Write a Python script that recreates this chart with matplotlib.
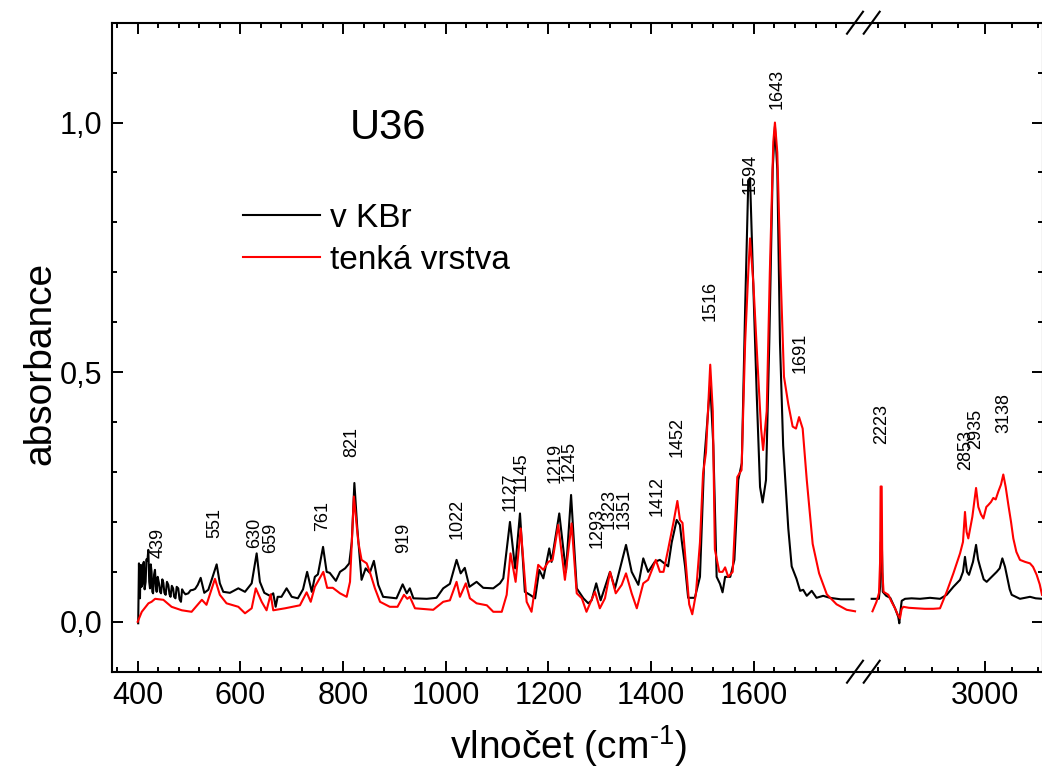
import matplotlib
matplotlib.use('Agg')
from matplotlib import pyplot as plt
from matplotlib.lines import Line2D
from matplotlib.ticker import FixedLocator, MultipleLocator, FuncFormatter

plt.rcParams['font.family'] = ['Liberation Sans', 'DejaVu Sans']
plt.rcParams['mathtext.fontset'] = 'custom'
plt.rcParams['mathtext.rm'] = 'Liberation Sans'
plt.rcParams['mathtext.it'] = 'Liberation Sans'
plt.rcParams['mathtext.default'] = 'regular'

# v KBr, 400-1800 cm-1
kbr_x = [401, 402.5, 403.5, 404.5, 405.5, 406.4, 407.5, 409, 410.5, 412, 413.5, 415.5, 417, 419, 420.7,
         422.5, 424, 425.5, 427, 428.5, 430, 432, 433.7, 435.5, 437, 439, 441.5, 443.5, 445.5, 448, 450,
         452, 454.5, 457, 459.6, 462, 464, 466.5, 469, 471, 473.6, 476, 479, 481.5, 484.3, 486.5, 489,
         493, 498.6, 503, 508, 512, 517,
         522.7, 529.7, 537.5, 545, 553.8, 560, 566.7, 579.7, 596, 609, 622, 631.7, 638, 646.6,
         657.6, 664, 668.7, 672.6, 680, 690, 700, 712, 722, 730, 739, 745, 751, 761, 768, 774,
         786, 794, 804, 812, 817, 822, 827.7, 836, 844, 852, 860, 868.5, 878, 904, 916, 924,
         930, 937, 963, 982, 995, 1008, 1021, 1029, 1037, 1046, 1060, 1073, 1092.5, 1105.5,
         1112, 1125, 1135, 1144.5, 1154, 1164, 1174, 1182, 1190, 1201.5, 1206, 1221, 1234,
         1244, 1255, 1268, 1277.5, 1284, 1293, 1301.6, 1319.8, 1329.5, 1342.6, 1351, 1362,
         1375, 1384.6, 1394, 1407, 1417, 1433, 1440, 1449.7, 1456, 1459.4, 1466, 1472, 1485,
         1495, 1503, 1515, 1521, 1527.5, 1534, 1539, 1544, 1554, 1562, 1569.6, 1576.5, 1583,
         1589, 1592.5, 1597.7, 1605.5, 1612, 1617, 1623.6, 1630, 1636.6, 1641, 1645.6, 1650.8,
         1657, 1667, 1673.6, 1683, 1690, 1696, 1703, 1712.6, 1722, 1735, 1748, 1769, 1794]
kbr_y = [-0.003, 0.117, 0.06, 0.047, 0.11, 0.114, 0.07, 0.074, 0.115, 0.12, 0.065, 0.08, 0.125, 0.122, 0.144,
         0.08, 0.067, 0.115, 0.10, 0.06, 0.057, 0.095, 0.104, 0.07, 0.06, 0.09, 0.077, 0.06, 0.057, 0.085, 0.078,
         0.058, 0.054, 0.08, 0.074, 0.055, 0.05, 0.072, 0.067, 0.05, 0.047, 0.07, 0.067, 0.045, 0.04, 0.065, 0.06,
         0.055, 0.057, 0.063, 0.064, 0.066, 0.074,
         0.088, 0.058, 0.064, 0.087, 0.115, 0.077, 0.06, 0.058, 0.067, 0.06, 0.077, 0.137, 0.08, 0.058,
         0.052, 0.057, 0.03, 0.05, 0.05, 0.067, 0.05, 0.047, 0.065, 0.10, 0.06, 0.09, 0.095, 0.15, 0.10, 0.098,
         0.082, 0.10, 0.107, 0.117, 0.16, 0.278, 0.187, 0.084, 0.107, 0.098, 0.122, 0.074, 0.05, 0.047, 0.075, 0.057,
         0.067, 0.047, 0.046, 0.048, 0.067, 0.076, 0.124, 0.097, 0.108, 0.07, 0.08, 0.068, 0.067, 0.077,
         0.087, 0.20, 0.107, 0.217, 0.06, 0.054, 0.047, 0.104, 0.087, 0.147, 0.12, 0.217, 0.10,
         0.254, 0.067, 0.047, 0.037, 0.043, 0.077, 0.043, 0.10, 0.067, 0.12, 0.154, 0.10,
         0.074, 0.127, 0.10, 0.12, 0.124, 0.111, 0.159, 0.204, 0.194, 0.163, 0.111, 0.048, 0.048,
         0.09, 0.318, 0.477, 0.353, 0.09, 0.076, 0.059, 0.09, 0.09, 0.124, 0.284, 0.318, 0.629,
         0.878, 0.889, 0.712, 0.456, 0.27, 0.239, 0.284, 0.56, 0.906, 0.992, 0.906, 0.56,
         0.353, 0.187, 0.111, 0.086, 0.062, 0.064, 0.052, 0.062, 0.048, 0.052, 0.048, 0.045, 0.045]

# tenka vrstva, 400-1800 cm-1
film_x = [400, 408, 421, 427, 434, 450, 466, 486, 505, 525, 534, 550.5, 560, 573, 596, 609, 622, 630,
          641.5, 651, 659, 664, 687, 716, 729, 737, 745, 761.5, 769, 780, 794, 807, 813.5, 821,
          829.6, 836, 846, 852, 862, 872, 891, 906, 918.6, 925, 930, 940, 975.6, 995, 1008, 1021,
          1027.6, 1039, 1047, 1060, 1080, 1092.5, 1109, 1118.6, 1126, 1136, 1146, 1157.5, 1167,
          1180, 1190, 1199.6, 1208, 1219, 1232, 1245, 1255, 1265, 1274, 1290.5, 1300, 1310, 1320,
          1331, 1342.6, 1351, 1362, 1372, 1384.6, 1394, 1409, 1417, 1424, 1433, 1443.6, 1451, 1456,
          1461, 1468, 1474, 1480, 1487, 1495, 1501, 1506.7, 1515, 1520, 1524, 1532.6, 1539, 1544,
          1550, 1558.7, 1567.7, 1576, 1583, 1589, 1592.5, 1599, 1606.7, 1614, 1618, 1625, 1631,
          1637.8, 1641, 1645.6, 1652, 1658.6, 1667, 1675.5, 1682, 1688, 1695, 1703, 1714.5, 1727,
          1742, 1761, 1780.7, 1797]
film_y = [0.0, 0.02, 0.037, 0.04, 0.046, 0.044, 0.03, 0.023, 0.02, 0.044, 0.034, 0.086, 0.054, 0.037, 0.03, 0.017, 0.027, 0.067,
          0.04, 0.023, 0.055, 0.023, 0.027, 0.033, 0.059, 0.04, 0.07, 0.10, 0.068, 0.068, 0.057, 0.05, 0.08, 0.251,
          0.16, 0.124, 0.117, 0.10, 0.067, 0.04, 0.03, 0.03, 0.054, 0.046, 0.05, 0.027, 0.024, 0.04, 0.043, 0.08,
          0.05, 0.077, 0.047, 0.037, 0.033, 0.02, 0.02, 0.054, 0.137, 0.08, 0.187, 0.04, 0.02,
          0.114, 0.104, 0.12, 0.124, 0.194, 0.084, 0.197, 0.057, 0.047, 0.02, 0.06, 0.027, 0.047, 0.10,
          0.057, 0.074, 0.097, 0.057, 0.027, 0.077, 0.084, 0.124, 0.10, 0.10, 0.145, 0.20, 0.242, 0.204,
          0.198, 0.111, 0.035, 0.015, 0.055, 0.159, 0.297, 0.339, 0.515, 0.422, 0.145, 0.10, 0.10, 0.109,
          0.09, 0.10, 0.29, 0.304, 0.56, 0.698, 0.768, 0.678, 0.525, 0.387, 0.344, 0.422, 0.698,
          0.961, 1.0, 0.94, 0.698, 0.491, 0.436, 0.391, 0.387, 0.41, 0.387, 0.284, 0.156, 0.097,
          0.055, 0.035, 0.024, 0.021]

# 2150-3430 cm-1
kbr_x2 = [2151, 2205, 2214, 2220, 2227, 2234, 2260, 2290, 2326, 2350, 2358, 2366, 2376, 2401, 2450,
          2513, 2588, 2663, 2713, 2763, 2813, 2835, 2850, 2865, 2880, 2910, 2933, 2948, 2963, 2990,
          3012.5, 3050, 3087.6, 3110, 3130, 3150, 3162.5, 3185, 3200, 3262, 3300, 3337, 3380, 3427]
kbr_y2 = [0.046, 0.046, 0.07, 0.16, 0.16, 0.06, 0.052, 0.048, 0.027, 0.01, -0.003, 0.02, 0.042, 0.046, 0.047,
          0.046, 0.048, 0.046, 0.054, 0.07, 0.084, 0.10, 0.13, 0.10, 0.094, 0.12, 0.154, 0.125, 0.11, 0.085,
          0.08, 0.09, 0.10, 0.107, 0.127, 0.11, 0.094, 0.065, 0.054, 0.046, 0.048, 0.05, 0.047, 0.046]
film_x2 = [2157, 2187, 2206, 2214, 2218, 2226, 2231, 2240, 2276, 2300, 2326, 2345, 2363, 2375, 2388,
           2430, 2488, 2550, 2613, 2663, 2713, 2763, 2813, 2835, 2850, 2862, 2875, 2905, 2933, 2950,
           2970, 2988, 3010, 3025, 3045, 3062, 3080, 3100, 3120, 3137, 3155, 3175, 3195, 3212, 3235,
           3262, 3300, 3337, 3360, 3387, 3410, 3427]
film_y2 = [0.021, 0.04, 0.058, 0.12, 0.271, 0.271, 0.1, 0.06, 0.054, 0.04, 0.027, 0.015, 0.007, 0.025, 0.03,
           0.028, 0.027, 0.026, 0.026, 0.027, 0.06, 0.097, 0.137, 0.16, 0.22, 0.18, 0.167, 0.21, 0.268, 0.23,
           0.215, 0.207, 0.23, 0.234, 0.24, 0.248, 0.245, 0.261, 0.275, 0.295, 0.27, 0.234, 0.2, 0.167, 0.14,
           0.124, 0.12, 0.117, 0.11, 0.094, 0.075, 0.054]

# peak labels: (text, x, y of label bottom)
peaks_left = [('439', 440, 0.127), ('551', 550, 0.167), ('630', 627, 0.147), ('659', 658, 0.137),
              ('761', 760, 0.181), ('821', 817, 0.331), ('919', 917, 0.137), ('1022', 1023, 0.165),
              ('1127', 1125, 0.221), ('1145', 1146, 0.261), ('1219', 1213, 0.277), ('1245', 1240, 0.281),
              ('1293', 1294, 0.147), ('1323', 1318, 0.185), ('1351', 1347, 0.185), ('1412', 1411, 0.211),
              ('1452', 1450, 0.331), ('1516', 1515, 0.602), ('1594', 1592, 0.857), ('1643', 1645, 1.028),
              ('1691', 1690, 0.498)]
peaks_right = [('2223', 2226, 0.357), ('2853', 2858, 0.305), ('2935', 2933, 0.347), ('3138', 3142, 0.378)]

W, H = 1042, 771
fig = plt.figure(figsize=(W / 100, H / 100), dpi=100)
y0, y1 = 1 - 671.7 / H, 1 - 22.7 / H
ax1 = fig.add_axes([112 / W, y0, (863 - 112) / W, y1 - y0])
ax2 = fig.add_axes([863 / W, y0, (1043 - 863) / W, y1 - y0])

lw = 1.5
l1, = ax1.plot(kbr_x, kbr_y, color='black', lw=lw, label='v KBr')
l2, = ax1.plot(film_x, film_y, color='red', lw=lw, label='tenká vrstva')
ax2.plot(kbr_x2, kbr_y2, color='black', lw=lw)
ax2.plot(film_x2, film_y2, color='red', lw=lw)

ax1.set_xlim(350, 1812.5)
ax2.set_xlim(2086, 3434.5)
for ax in (ax1, ax2):
    ax.set_ylim(-0.1, 1.2)
    ax.yaxis.set_major_locator(MultipleLocator(0.5))
    ax.yaxis.set_minor_locator(MultipleLocator(0.1))
    ax.tick_params(which='both', direction='in', width=1.4, labelsize=22, top=True)
    ax.tick_params(which='major', length=7.7)
    ax.tick_params(which='minor', length=3.8)
    for s in ax.spines.values():
        s.set_linewidth(1.5)

ax1.xaxis.set_major_locator(FixedLocator([400, 600, 800, 1000, 1200, 1400, 1600]))
ax1.xaxis.set_minor_locator(FixedLocator(list(range(360, 1780, 40))))
ax1.yaxis.set_major_formatter(FuncFormatter(lambda v, p: '{:.1f}'.format(v).replace('.', ',')))
ax1.tick_params(axis='y', which='both', right=False)
ax1.tick_params(axis='y', pad=7)
ax1.tick_params(axis='x', pad=7)
ax1.spines['right'].set_visible(False)

ax2.xaxis.set_major_locator(FixedLocator([3000]))
ax2.xaxis.set_minor_locator(FixedLocator([2200, 2400, 2600, 2800, 3200, 3400]))
ax2.tick_params(axis='y', which='both', left=False, right=True, labelleft=False)
ax2.tick_params(axis='x', pad=7)
ax2.spines['left'].set_visible(False)

for txt, x, y in peaks_left:
    ax1.text(x, y, txt, rotation=90, ha='center', va='bottom', fontsize=13)
for txt, x, y in peaks_right:
    ax2.text(x, y, txt, rotation=90, ha='center', va='bottom', fontsize=13)

ax1.text(887, 0.99, 'U36', fontsize=30, ha='center', va='center')
ax1.legend(handles=[l1, l2], loc='upper left', bbox_to_anchor=(243 / W, 1 - 203 / H),
           bbox_transform=fig.transFigure, frameon=False, borderpad=0, borderaxespad=0,
           handlelength=2.3, handletextpad=0.3, labelspacing=0.33, fontsize=24)

fig.text(40 / W, 1 - 363 / H, 'absorbance', rotation=90, ha='center', va='center', fontsize=28)
fig.text(568 / W, 1 - 746 / H, r'vlnočet (cm$^{\text{-1}}$)', ha='center', va='center', fontsize=28)

# break marks
for yb in (22.7, 671.7):
    for xb in (855, 871.7):
        fig.add_artist(Line2D([(xb - 8) / W, (xb + 8) / W], [1 - (yb + 11) / H, 1 - (yb - 11) / H],
                              transform=fig.transFigure, color='black', lw=1.5))

fig.savefig('out.png', dpi=100)
